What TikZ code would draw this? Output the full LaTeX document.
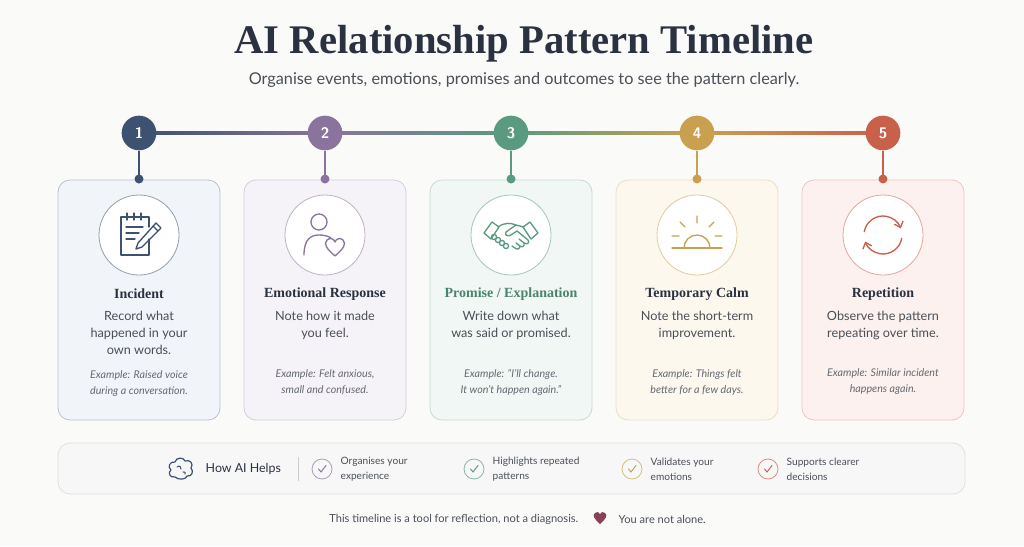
\documentclass[tikz,border=0pt]{standalone}
\usepackage{fontspec}
\setmainfont{Lato}
\newfontfamily\serifb{Liberation Serif}
\usetikzlibrary{arrows.meta}
\definecolor{cA}{HTML}{3D5270}\definecolor{cB}{HTML}{8A739C}\definecolor{cC}{HTML}{5A9A80}
\definecolor{cD}{HTML}{C9A050}\definecolor{cE}{HTML}{C8604A}
\definecolor{fA}{HTML}{F1F4F8}\definecolor{fB}{HTML}{F5F3F7}\definecolor{fC}{HTML}{F1F7F4}
\definecolor{fD}{HTML}{FCF8EE}\definecolor{fE}{HTML}{FCF1EF}
\definecolor{txt}{HTML}{4A4F58}\definecolor{dark}{HTML}{2A3140}\definecolor{bg}{HTML}{FAFAF9}
\tikzset{
 num/.style={circle,minimum size=26pt,inner sep=0,fill=#1,text=white,font=\fontsize{11.5}{12}\bfseries\sffamily\selectfont},
 card/.style={draw=c#1!35,fill=f#1,rounded corners=9,line width=0.6pt,minimum width=162*0.75pt,minimum height=240*0.75pt,inner sep=0},
 iconc/.style={circle,draw=#1!55,fill=white,minimum size=80*0.75pt,line width=0.6pt,inner sep=0},
 ttl/.style={font=\serifb\fontsize{10.5}{12}\bfseries\selectfont,text=#1},
 desc/.style={font=\fontsize{9.5}{13}\selectfont,text=txt,align=center},
 ex/.style={font=\fontsize{8}{12}\itshape\selectfont,text=txt!85,align=center},
 ico/.style={draw=#1,line width=1pt,line cap=round,line join=round},
 chk/.style={circle,draw=#1!70,minimum size=15,inner sep=0,line width=0.6pt},
 itm/.style={font=\fontsize{7.6}{11}\selectfont,text=txt,align=left,anchor=west}
}
\begin{document}
\begin{tikzpicture}[x=0.75pt,y=-0.75pt]
\fill[bg] (0,0) rectangle (1024,546);
\useasboundingbox (0,0) rectangle (1024,546);
\node[font=\serifb\fontsize{30.5}{32}\bfseries\selectfont,text=dark] (title) at (524,44) {AI Relationship Pattern Timeline};
\node[font=\fontsize{12.2}{14}\selectfont,text=txt] (sub) at (524,80) {Organise events, emotions, promises and outcomes to see the pattern clearly.};
% timeline line
\shade[left color=cA,right color=cB] (139,131.8) rectangle (325,134.2);
\shade[left color=cB,right color=cC] (325,131.8) rectangle (511,134.2);
\shade[left color=cC,right color=cD] (511,131.8) rectangle (697,134.2);
\shade[left color=cD,right color=cE] (697,131.8) rectangle (883,134.2);
\foreach \i/\c/\x in {1/A/139,2/B/325,3/C/511,4/D/697,5/E/883}{
 \node[card=\c] (card\i) at (\x,300) {};
 \node[num=c\c] (n\i) at (\x,133) {\i};
 \coordinate (d\i) at (\x,179);
 \draw[c\c,line width=1.2pt] (n\i) -- (d\i);
 \fill[c\c] (d\i) circle (4.5);
 \node[iconc=c\c] (ic\i) at (\x,235) {};
}
% titles and texts
\node[ttl=dark] (t1) at (139,294) {Incident};
\node[ttl=dark] (t2) at (325,294) {Emotional Response};
\node[ttl=cC!85!black] (t3) at (511,294) {Promise / Explanation};
\node[ttl=dark] (t4) at (697,294) {Temporary Calm};
\node[ttl=dark] (t5) at (883,294) {Repetition};
\node[desc,anchor=north] (s1) at (139,306) {Record what\\happened in your\\own words.};
\node[desc,anchor=north] (s2) at (325,306) {Note how it made\\you feel.};
\node[desc,anchor=north] (s3) at (511,306) {Write down what\\was said or promised.};
\node[desc,anchor=north] (s4) at (697,306) {Note the short-term\\improvement.};
\node[desc,anchor=north] (s5) at (883,306) {Observe the pattern\\repeating over time.};
\node[ex] (e1) at (139,384) {Example: Raised voice\\during a conversation.};
\node[ex] (e2) at (325,382) {Example: Felt anxious,\\small and confused.};
\node[ex] (e3) at (511,382) {Example: “I’ll change.\\It won’t happen again.”};
\node[ex] (e4) at (697,382) {Example: Things felt\\better for a few days.};
\node[ex] (e5) at (883,382) {Example: Similar incident\\happens again.};
% icon 1 notepad
\begin{scope}[shift={(139,235)}]
\draw[ico=cA] (4,-18) -- (-18,-18) -- (-18,20) -- (10,20) -- (10,4);
\draw[ico=cA] (10,-8) -- (10,-18) -- (4,-18);
\foreach \k in {-12,-5,2}{\draw[ico=cA] (\k,-22) -- (\k,-15);}
\draw[ico=cA] (-13,-8) -- (4,-8) (-13,-2) -- (0,-2) (-13,4) -- (-4,4);
\draw[ico=cA] (17,-12) -- (22,-7) -- (3,12) -- (-3,14) -- (-1,8) -- cycle;
\draw[ico=cA] (14,-9) -- (19,-4);
\end{scope}
% icon 2 person heart
\begin{scope}[shift={(325,235)}]
\draw[ico=cB] (-6,-13) circle (8);
\draw[ico=cB] (-21,20) .. controls (-21,4) and (-14,0) .. (-6,0) .. controls (-1,0) and (3,1) .. (6,3);
\draw[ico=cB] (10,21) .. controls (2,14) and (-2,9) .. (2,5) .. controls (5,2) and (9,4) .. (10,7) .. controls (11,4) and (15,2) .. (18,5) .. controls (22,9) and (18,14) .. (10,21) -- cycle;
\end{scope}
% icon 3 handshake
\begin{scope}[shift={(511,235)}]
\draw[ico=cC] (-27,-2) -- (-19,-13) -- (-12,-8) -- (-20,4) -- cycle;
\draw[ico=cC] (27,-2) -- (19,-13) -- (12,-8) -- (20,4) -- cycle;
\draw[ico=cC] (-13,-8) .. controls (-6,-13) and (0,-12) .. (5,-10) -- (13,-8);
\draw[ico=cC] (5,-10) -- (-5,-3) .. controls (-7,0) and (-3,2) .. (0,0) -- (6,-4) -- (17,5) .. controls (19,8) and (16,10) .. (13,8) -- (8,4);
\draw[ico=cC] (13,8) .. controls (14,11) and (11,13) .. (9,11) -- (5,8) (9,11) .. controls (9,14) and (6,15) .. (4,13) -- (1,11);
\foreach \a/\b in {-17/2,-13/5,-9/8,-5/11}{\draw[ico=cC] (\a,\b) circle (2.6);}
\end{scope}
% icon 4 sun
\begin{scope}[shift={(697,235)}]
\draw[ico=cD] (-25,13) -- (25,13);
\draw[ico=cD] (-13,13) arc (180:360:13);
\draw[ico=cD] (0,-19) -- (0,-12) (-17,-13) -- (-12,-8) (17,-13) -- (12,-8) (-25,1) -- (-18,1) (25,1) -- (18,1);
\end{scope}
% icon 5 refresh
\begin{scope}[shift={(883,235)}]
\draw[ico=cE,-{Straight Barb[length=4pt,width=7pt]}] (190:19) arc (190:340:19);
\draw[ico=cE,-{Straight Barb[length=4pt,width=7pt]}] (10:19) arc (10:160:19);
\end{scope}
% bottom band
\node[draw=black!12,fill=black!3,rounded corners=9,minimum width=907*0.75pt,minimum height=51*0.75pt,line width=0.6pt] (band) at (511.5,468.5) {};
\begin{scope}[shift={(181,469)}]
\draw[ico=cA,line width=0.9pt] (-6,8) .. controls (-12,9) and (-13,3) .. (-10,1) .. controls (-14,-2) and (-11,-8) .. (-6,-7) .. controls (-5,-12) and (3,-12) .. (4,-8) .. controls (9,-10) and (13,-5) .. (10,-1) .. controls (13,2) and (11,8) .. (6,7) .. controls (5,11) and (-3,11) .. (-6,8);
\draw[ico=cA,line width=0.8pt] (-4,-2) .. controls (-2,-4) and (1,-2) .. (0,0) (2,3) .. controls (4,2) and (5,4) .. (4,5);
\end{scope}
\node[font=\fontsize{9.3}{11}\selectfont,text=dark,anchor=west] (how) at (201,469) {How AI Helps};
\draw[black!20,line width=0.6pt] (298,457) -- (298,481);
\foreach \c/\x/\t in {B/322/{Organises your\\experience},C/474/{Highlights repeated\\patterns},D/632/{Validates your\\emotions},E/768/{Supports clearer\\decisions}}{
 \node[chk=c\c] (k\c) at (\x,469) {};
 \draw[c\c,line width=0.7pt,line cap=round] ([shift={(-3.5,0)}]k\c.center) -- ([shift={(-1,3)}]k\c.center) -- ([shift={(4,-3.5)}]k\c.center);
 \node[itm] (m\c) at (\x+14,469) {\t};
}
% footer
\node[font=\fontsize{8.3}{10}\selectfont,text=txt,anchor=east] (f1) at (583,519) {This timeline is a tool for reflection, not a diagnosis.};
\fill[cB!70!red!80!black] (600,524) .. controls (594,519) and (592,515) .. (595,513) .. controls (597,511) and (599,512) .. (600,514) .. controls (601,512) and (603,511) .. (605,513) .. controls (608,515) and (606,519) .. (600,524) -- cycle;
\node[font=\fontsize{8.3}{10}\selectfont,text=txt,anchor=west] (f2) at (614,519) {You are not alone.};
\end{tikzpicture}
\end{document}
